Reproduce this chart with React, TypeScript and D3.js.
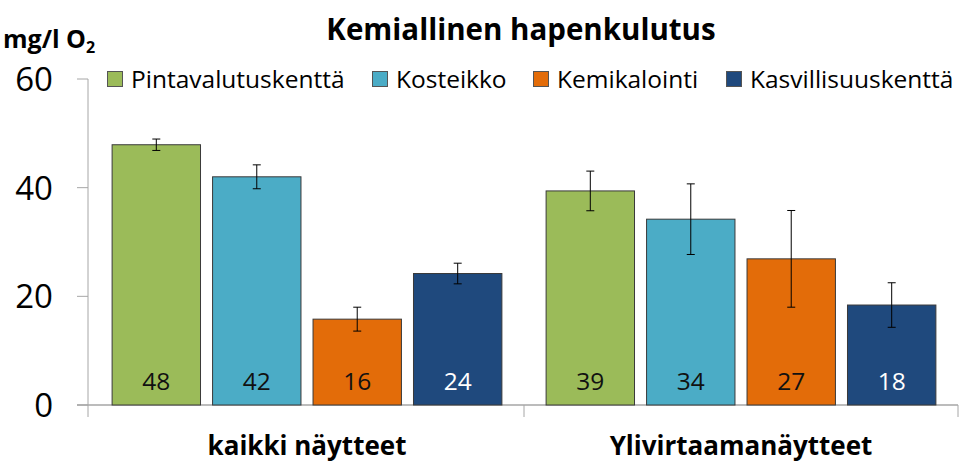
import * as d3 from "d3";

const categories = ["kaikki näytteet", "Ylivirtaamanäytteet"];
const seriesNames = ["Pintavalutuskenttä", "Kosteikko", "Kemikalointi", "Kasvillisuuskenttä"];
const seriesColors = ["#9BBB59", "#4BACC6", "#E36C09", "#1F497D"];
const labelColors = ["#111", "#111", "#111", "#fff"];

// mean values per series, [kaikki, ylivirtaama]
const pintavalutus = [47.9, 39.4];
const kosteikko = [42.0, 34.2];
const kemikalointi = [15.8, 26.9];
const kasvillisuus = [24.2, 18.4];

// error (± half-range) per series
const pintavalutusErr = [1.05, 3.65];
const kosteikkoErr = [2.2, 6.5];
const kemikalointiErr = [2.2, 8.9];
const kasvillisuusErr = [1.9, 4.1];

const yTicks = [0, 20, 40, 60];
const legendX = [107, 372, 533, 726];

const FONT = "'Open Sans', sans-serif";

export default function App() {
  const width = 975;
  const height = 470;
  const left = 90;
  const right = 958;
  const top = 79;
  const bottom = 405;

  const values = [pintavalutus, kosteikko, kemikalointi, kasvillisuus];
  const errors = [pintavalutusErr, kosteikkoErr, kemikalointiErr, kasvillisuusErr];

  const x0 = d3.scaleBand().domain(categories).range([left, right]).padding(0);
  const x1 = d3
    .scaleBand()
    .domain(seriesNames)
    .range([0, x0.bandwidth()])
    .paddingInner(0.12)
    .paddingOuter(0.22);
  const y = d3.scaleLinear().domain([0, 60]).range([bottom, top]);
  const fmt = d3.format(".0f");
  const axisColor = "#A6A6A6";

  return (
    <svg
      width={width}
      height={height}
      style={{ position: "absolute", left: 0, top: 0, display: "block", background: "#fff" }}
      fontFamily={FONT}
    >
      {/* title */}
      <text x={521} y={40} textAnchor="middle" fontSize={29.5} fontWeight="bold" fill="#000">
        Kemiallinen hapenkulutus
      </text>
      {/* y label */}
      <text x={3} y={48} fontSize={25} fontWeight="bold" fill="#000">
        mg/l O
        <tspan fontSize={16} dy={5}>2</tspan>
      </text>

      {/* y axis */}
      <line x1={88} x2={88} y1={top} y2={bottom + 12} stroke={axisColor} strokeWidth={1} />
      {yTicks.map((t) => (
        <g key={t}>
          <line x1={77} x2={88} y1={y(t)} y2={y(t)} stroke={axisColor} />
          <text x={53} y={y(t)} dy="0.36em" textAnchor="end" fontSize={33} fill="#000">
            {t}
          </text>
        </g>
      ))}

      {/* x baseline */}
      <line x1={77} x2={right} y1={bottom} y2={bottom} stroke={axisColor} strokeWidth={1.5} />
      {[...categories.map((c) => x0(c)!), right].slice(1).map((xx, i) => (
        <line key={i} x1={xx} x2={xx} y1={bottom} y2={bottom + 12} stroke={axisColor} />
      ))}

      {/* bars */}
      {categories.map((cat, ci) => (
        <g key={cat} transform={`translate(${x0(cat)},0)`}>
          {seriesNames.map((s, si) => {
            const v = values[si][ci];
            const e = errors[si][ci];
            const bx = x1(s)!;
            const bw = x1.bandwidth();
            const cx = bx + bw / 2;
            return (
              <g key={s}>
                <rect
                  x={bx}
                  y={y(v)}
                  width={bw}
                  height={y(0) - y(v)}
                  fill={seriesColors[si]}
                  stroke="#3a3a3a"
                  strokeWidth={1}
                />
                <line x1={cx} x2={cx} y1={y(v + e)} y2={y(v - e)} stroke="#000" strokeWidth={1} />
                <line x1={cx - 4} x2={cx + 4} y1={y(v + e)} y2={y(v + e)} stroke="#000" />
                <line x1={cx - 4} x2={cx + 4} y1={y(v - e)} y2={y(v - e)} stroke="#000" />
                <text x={cx} y={390} textAnchor="middle" fontSize={24.5} fill={labelColors[si]}>
                  {fmt(v)}
                </text>
              </g>
            );
          })}
          <text
            x={x0.bandwidth() / 2}
            y={455}
            textAnchor="middle"
            fontSize={26}
            fontWeight="bold"
            fill="#000"
          >
            {cat}
          </text>
        </g>
      ))}

      {/* legend */}
      {seriesNames.map((s, i) => (
        <g key={s} transform={`translate(${legendX[i]},${y(60)})`}>
          <rect x={0.5} y={-7.5} width={15} height={15} fill={seriesColors[i]} stroke="#555" strokeWidth={1} />
          <text x={24} y={0} dy="0.36em" fontSize={24.5} fill="#000">
            {s}
          </text>
        </g>
      ))}
    </svg>
  );
}
